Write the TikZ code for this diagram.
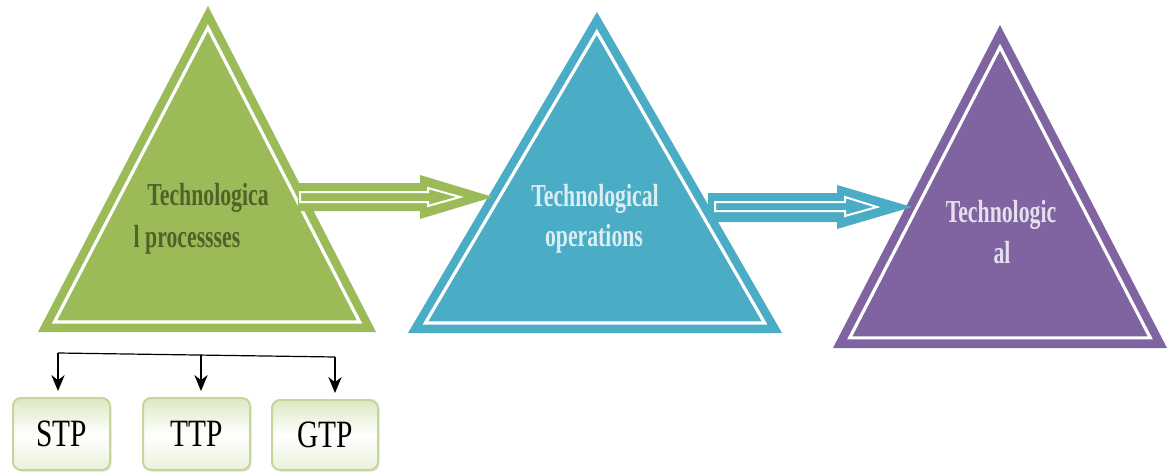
\documentclass[tikz,border=0pt]{standalone}
\usepackage{fontspec}
\newfontfamily\condserif[FakeStretch=0.68]{Liberation Serif}
\newfontfamily\boxserif[FakeStretch=0.76]{Liberation Serif}
\usetikzlibrary{calc,arrows.meta,shadows}
\definecolor{triGreen}{HTML}{9BBB59}
\definecolor{triBlue}{HTML}{4BACC6}
\definecolor{triPurple}{HTML}{8064A2}
\definecolor{txtGreen}{HTML}{4F6228}
\definecolor{txtBlue}{HTML}{DAEEF3}
\definecolor{txtPurple}{HTML}{E5E0EC}
\definecolor{boxLine}{HTML}{C3D69B}
\definecolor{boxTop}{HTML}{DCE8C2}

\begin{document}
\begin{tikzpicture}[x=0.75pt, y=-0.75pt,
  inset/.style={draw=white, line width=2.4pt, line join=miter},
  lbl/.style={anchor=base, inner sep=0pt, font=\condserif\bfseries\fontsize{24}{28}\selectfont},
  band/.style={draw=white, line width=1.5pt, fill=#1},
  tbox/.style={draw=boxLine, line width=1.5pt, rounded corners=6pt,
    top color=boxTop, bottom color=boxTop!60, middle color=white,
    drop shadow={opacity=0.2, shadow xshift=1.2pt, shadow yshift=-1.2pt},
    minimum height=54pt, font=\boxserif\fontsize{29}{32}\selectfont},
  tip/.style={-{Stealth[length=12pt, width=10pt]}, shorten >=4.5pt}]
  \useasboundingbox (0,0) rectangle (1168,475);
  % triangles
  \coordinate (g1) at (208,6);    \coordinate (g2) at (38,332);  \coordinate (g3) at (376,332);
  \coordinate (gi) at (207,229.3);
  \coordinate (b1) at (597,12);   \coordinate (b2) at (408,333); \coordinate (b3) at (782,333);
  \coordinate (bi) at (595,225.5);
  \coordinate (p1) at (1000,25);  \coordinate (p2) at (833,348); \coordinate (p3) at (1167,348);
  \coordinate (pi) at (1000,246.5);
  \fill[triGreen] (g1) -- (g2) -- (g3) -- cycle;
  \draw[inset] ($(gi)!0.903!(g1)$) -- ($(gi)!0.903!(g2)$) -- ($(gi)!0.903!(g3)$) -- cycle;
  \fill[triBlue] (b1) -- (b2) -- (b3) -- cycle;
  \draw[inset] ($(bi)!0.907!(b1)$) -- ($(bi)!0.907!(b2)$) -- ($(bi)!0.907!(b3)$) -- cycle;
  \fill[triPurple] (p1) -- (p2) -- (p3) -- cycle;
  \draw[inset] ($(pi)!0.9!(p1)$) -- ($(pi)!0.9!(p2)$) -- ($(pi)!0.9!(p3)$) -- cycle;

  % block arrows
  \fill[triGreen] (298,183) -- (420,183) -- (420,175) -- (493,197) -- (420,219) -- (420,211) -- (298,211) -- cycle;
  \draw[band=triGreen] (300,192) -- (428,192) -- (428,188) -- (460,197) -- (428,206) -- (428,202) -- (300,202) -- cycle;
  \fill[triBlue] (708,193) -- (837,193) -- (837,185) -- (912,207) -- (837,229) -- (837,222) -- (708,222) -- cycle;
  \draw[band=triBlue] (715,202) -- (845,202) -- (845,197) -- (877,207) -- (845,216) -- (845,211) -- (715,211) -- cycle;

  % labels
  \node[lbl, text=txtGreen] (proc1) at (208,205) {Technologica};
  \node[lbl, text=txtGreen] (proc2) at (187,247) {l processses};
  \node[lbl, text=txtBlue] (oper1) at (595,206) {Technological};
  \node[lbl, text=txtBlue] (oper2) at (594,246) {operations};
  \node[lbl, text=txtPurple] (tech1) at (1001,222) {Technologic};
  \node[lbl, text=txtPurple] (tech2) at (1002,263) {al};

  % process types
  \node[tbox, minimum width=72.75pt] (stp) at (61.5,434) {STP};
  \node[tbox, minimum width=80.25pt] (ttp) at (196.5,434) {TTP};
  \node[tbox, minimum width=79.5pt, minimum height=52.5pt] (gtp) at (325,435) {GTP};
  \coordinate (h1) at (58,353);
  \coordinate (h2) at (201,355);
  \coordinate (h3) at (335,357);
  \draw[line width=0.9pt] (h1) -- (h3);
  \draw[line width=0.9pt, tip] (h1) -- (h1 |- stp.north);
  \draw[line width=0.9pt, tip] (h2) -- (h2 |- ttp.north);
  \draw[line width=0.9pt, tip] (h3) -- (h3 |- gtp.north);
\end{tikzpicture}
\end{document}
